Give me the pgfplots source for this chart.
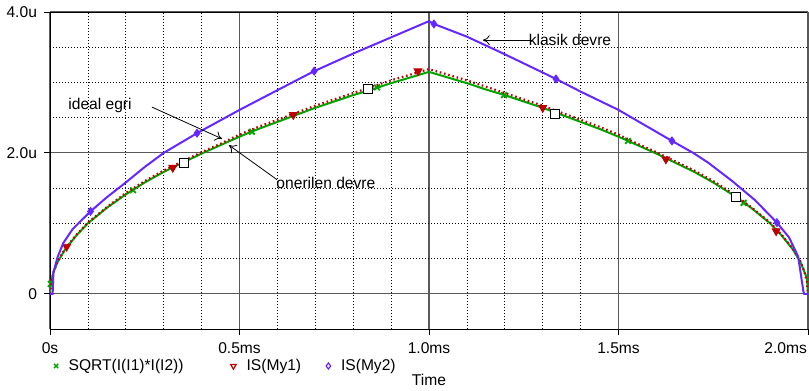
\documentclass[border=0pt]{standalone}
\usepackage{fontspec}
\setmainfont{Liberation Sans}
\usepackage{pgfplots}
\pgfplotsset{compat=1.18}
\usetikzlibrary{arrows.meta}
\definecolor{cgreen}{RGB}{0,165,0}
\definecolor{cred}{RGB}{190,0,0}
\definecolor{cblue}{RGB}{100,40,255}
\begin{document}
\begin{tikzpicture}[font=\fontsize{7.8}{9.4}\selectfont]
\begin{axis}[
  width=379pt, height=158.5pt, scale only axis,
  font=\fontsize{7.8}{9.4}\selectfont,
  xmin=0, xmax=2, ymin=-0.5, ymax=4,
  xtick={0,0.5,1,1.5}, xticklabels={0s,0.5ms,1.0ms,1.5ms},
  extra x ticks={2}, extra x tick labels={2.0ms},
  extra x tick style={xticklabel style={anchor=north east, xshift=3pt}},
  ytick={0,2,4}, yticklabels={0,2.0u,4.0u},
  /pgf/number format/assume math mode=true,
  minor x tick num=4, minor y tick num=3,
  grid=both,
  major grid style={gray!70!black, line width=0.6pt},
  minor grid style={black, line width=0.4pt, dash pattern=on 0.5pt off 1pt},
  axis line style={black, line width=0.5pt},
  tick align=outside, tick pos=left,
  major tick length=3pt, minor tick length=0pt,
  tick style={black, line width=0.5pt},
  xticklabel style={yshift=-0.5pt},
  xlabel=Time,
  xlabel style={at={(axis description cs:0.5,0)}, anchor=center, yshift=-25.5pt},
  clip mode=individual,
  legend columns=3,
  legend style={at={(axis description cs:0,0)}, anchor=west, xshift=2pt, yshift=-18.5pt,
    draw=none, fill=none, inner sep=0pt, outer sep=0pt,
    /tikz/every even column/.append style={column sep=1pt}},
  legend cell align=left,
  legend image code/.code={\draw[#1] plot coordinates {(0pt,0pt)};},
]
\coordinate (SW) at (rel axis cs:0,0);
\coordinate (NE) at (rel axis cs:1,1);

% SQRT(I(I1)*I(I2)) - green
\addplot[cgreen, line width=1pt, forget plot] coordinates {
(0,0) (0.003,0.17) (0.01,0.32) (0.02,0.45) (0.04,0.63) (0.07,0.83) (0.1,1.00)
(0.15,1.22) (0.2,1.41) (0.25,1.58) (0.3,1.73) (0.35,1.86) (0.4,1.99) (0.45,2.11)
(0.5,2.23) (0.55,2.34) (0.6,2.44) (0.65,2.54) (0.7,2.64) (0.75,2.73) (0.8,2.82)
(0.85,2.90) (0.9,2.99) (0.95,3.07) (1.0,3.15)
(1.05,3.07) (1.1,2.99) (1.15,2.90) (1.2,2.82) (1.25,2.73) (1.3,2.64) (1.35,2.54)
(1.4,2.44) (1.45,2.34) (1.5,2.23) (1.55,2.11) (1.6,1.99) (1.65,1.86) (1.7,1.73)
(1.75,1.58) (1.8,1.41) (1.85,1.22) (1.9,1.00) (1.93,0.83) (1.96,0.63) (1.98,0.45)
(1.99,0.32) (1.997,0.22) (2.0,0)};
\addplot[cgreen, only marks, mark=x, mark size=2pt, line width=0.9pt, forget plot] coordinates {
(0.002,0.14) (0.219,1.47) (0.533,2.30) (0.863,2.93) (1.198,2.82) (1.525,2.17) (1.83,1.29)};

% IS(My1) - red dotted
\addplot[cred, line width=1.1pt, dash pattern=on 0.8pt off 1.4pt, forget plot] coordinates {
(0,0) (0.003,0.17) (0.01,0.32) (0.02,0.46) (0.04,0.64) (0.07,0.84) (0.1,1.01)
(0.15,1.23) (0.2,1.43) (0.25,1.60) (0.3,1.75) (0.35,1.88) (0.4,2.01) (0.45,2.13)
(0.5,2.26) (0.55,2.37) (0.6,2.47) (0.65,2.57) (0.7,2.67) (0.75,2.76) (0.8,2.85)
(0.85,2.94) (0.9,3.03) (0.95,3.11) (1.0,3.19)
(1.05,3.11) (1.1,3.03) (1.15,2.94) (1.2,2.85) (1.25,2.76) (1.3,2.67) (1.35,2.57)
(1.4,2.47) (1.45,2.37) (1.5,2.26) (1.55,2.13) (1.6,2.01) (1.65,1.88) (1.7,1.75)
(1.75,1.60) (1.8,1.43) (1.85,1.23) (1.9,1.01) (1.93,0.84) (1.96,0.64) (1.98,0.46)
(1.99,0.32) (1.997,0.17) (2.0,0)};
\addplot[cred, only marks, mark=triangle*, mark options={rotate=180}, mark size=2.3pt, forget plot] coordinates {
(0.044,0.67) (0.324,1.79) (0.642,2.54) (0.971,3.16) (1.30,2.64) (1.625,1.91) (1.916,0.89)};

% IS(My2) - blue
\addplot[cblue, line width=1pt, forget plot] coordinates {
(0,0) (0.007,0) (0.009,0.30) (0.02,0.52) (0.035,0.72) (0.06,0.92) (0.107,1.17)
(0.15,1.37) (0.2,1.58) (0.25,1.80) (0.3,2.0) (0.388,2.28) (0.5,2.61) (0.6,2.89)
(0.697,3.16) (0.8,3.41) (0.9,3.64) (1.0,3.87)
(1.013,3.83) (1.1,3.65) (1.2,3.40) (1.335,3.05) (1.4,2.87) (1.5,2.61) (1.641,2.17)
(1.697,2.0) (1.737,1.86) (1.8,1.60) (1.86,1.33) (1.918,1.01) (1.95,0.80) (1.974,0.53)
(1.988,0.03) (1.99,0) (2.0,0)};
\addplot[cblue, only marks, mark=diamond*, mark size=2pt, forget plot] coordinates {
(0.107,1.17) (0.388,2.28) (0.697,3.16) (1.013,3.83) (1.335,3.05) (1.641,2.17) (1.918,1.01)};

% cursor squares
\addplot[black, only marks, mark=square*, mark options={fill=white}, mark size=2.2pt, line width=0.6pt, forget plot] coordinates {
(0.353,1.86) (0.839,2.91) (1.333,2.55) (1.81,1.37)};

\addlegendimage{cgreen, only marks, mark=x, mark size=1.5pt, line width=0.7pt}
\addlegendentry{\hspace*{3.2pt}SQRT(I(I1)*I(I2))\hspace*{20.5pt}}
\addlegendimage{cred, only marks, mark=triangle, mark options={rotate=180}, mark size=1.6pt, line width=0.6pt}
\addlegendentry{\hspace*{3.2pt}IS(My1)\hspace*{9.5pt}}
\addlegendimage{cblue, only marks, mark=diamond, mark size=1.5pt, line width=0.6pt}
\addlegendentry{\hspace*{3.2pt}IS(My2)}

% annotations
\node at (axis cs:0.132,2.68) {ideal egri};
\draw[-{To[length=3.5pt,width=5pt]}, line width=0.4pt] (axis cs:0.269,2.65) -- (axis cs:0.454,2.20);
\node at (axis cs:0.728,1.57) {onerilen devre};
\draw[-{To[length=3.5pt,width=5pt]}, line width=0.4pt] (axis cs:0.599,1.62) -- (axis cs:0.472,2.11);
\node at (axis cs:1.372,3.60) {klasik devre};
\draw[-{To[length=3.5pt,width=5pt]}, line width=0.4pt] (axis cs:1.272,3.60) -- (axis cs:1.142,3.60);
\end{axis}
\pgfresetboundingbox
\path (SW) ++(-25pt,-31pt) rectangle ([shift={(0.5pt,6pt)}]NE);
\end{tikzpicture}
\end{document}
